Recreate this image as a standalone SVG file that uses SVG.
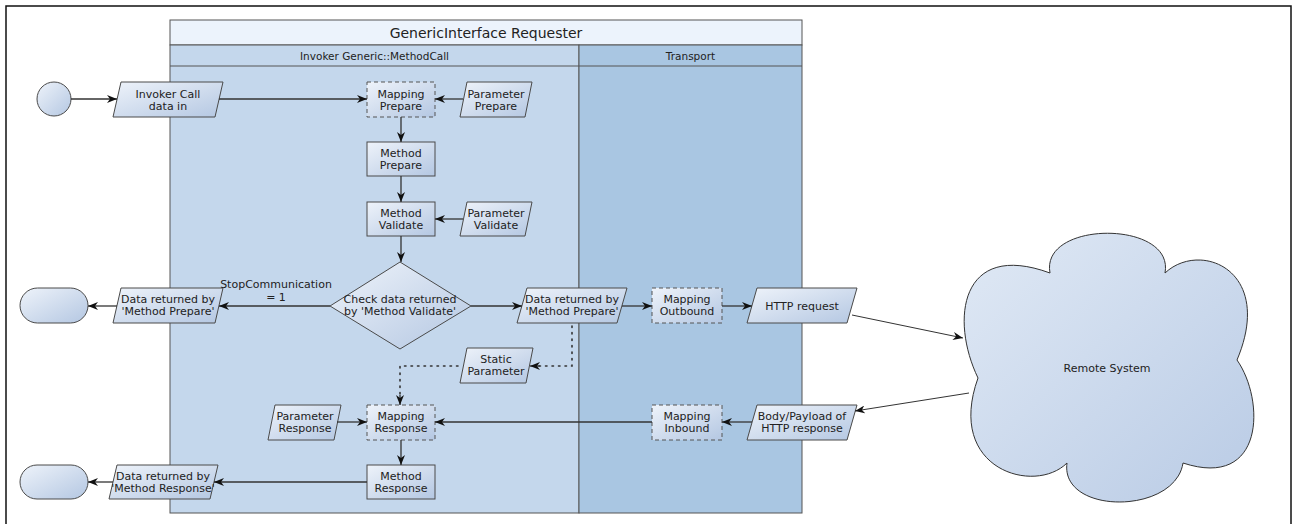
<svg xmlns="http://www.w3.org/2000/svg" width="1296" height="524" viewBox="0 0 1296 524">
<defs>
<linearGradient id="ng" x1="0" y1="0" x2="1" y2="1">
<stop offset="0" stop-color="#eef3fa"/>
<stop offset="1" stop-color="#b4c7e2"/>
</linearGradient>
<linearGradient id="cg" x1="0" y1="0" x2="1" y2="1">
<stop offset="0" stop-color="#e0e9f5"/>
<stop offset="1" stop-color="#b9cbe5"/>
</linearGradient>
<marker id="arr" viewBox="0 0 10 8" markerWidth="10" markerHeight="8" refX="10" refY="4" orient="auto" markerUnits="userSpaceOnUse">
<path d="M0,0 L10,4 L0,8 L3,4 z" fill="#111"/>
</marker>
<style>
text{font-family:"DejaVu Sans","Liberation Sans",sans-serif;fill:#222;text-anchor:middle}
.t{font-size:11px}
.hd{font-size:10.5px}
.ti{font-size:14px}
.n{fill:url(#ng);stroke:#4a4a4a;stroke-width:1}
.d{fill:url(#ng);stroke:#555;stroke-width:1;stroke-dasharray:4,3}
.c{fill:none;stroke:#333;stroke-width:1.3;marker-end:url(#arr)}
.dot{fill:none;stroke:#333;stroke-width:1.6;stroke-dasharray:1.5,5;stroke-linecap:round}
</style>
</defs>
<rect x="0" y="0" width="1296" height="524" fill="#fff"/>
<rect x="6" y="6" width="1285" height="530" fill="none" stroke="#111" stroke-width="1.5"/>

<g id="pool">
<rect x="170" y="20" width="632" height="25" fill="#ecf3fc" stroke="#555" stroke-width="1"/>
<text class="ti" x="486" y="38">GenericInterface Requester</text>
<rect x="170" y="45" width="409" height="468" fill="#c4d7ec" stroke="#555" stroke-width="1"/>
<rect x="579" y="45" width="223" height="468" fill="#a9c6e2" stroke="#555" stroke-width="1"/>
<line x1="170" y1="66" x2="802" y2="66" stroke="#555" stroke-width="1"/>
<text class="hd" x="374.5" y="60">Invoker Generic::MethodCall</text>
<text class="hd" x="690.5" y="60">Transport</text>
</g>

<g id="start"><circle cx="54" cy="99" r="17" class="n"/></g>
<g id="invoker-call"><path class="n" d="M121,82 L223,82 L215,117 L113,117 Z"/><text class="t" x="168" y="98">Invoker Call</text><text class="t" x="168" y="110">data in</text></g>
<g id="mapping-prepare"><rect class="d" x="367" y="82" width="68" height="35"/><text class="t" x="401" y="98">Mapping</text><text class="t" x="401" y="110">Prepare</text></g>
<g id="parameter-prepare"><path class="n" d="M467,82 L532,82 L525,117 L460,117 Z"/><text class="t" x="496" y="98">Parameter</text><text class="t" x="496" y="110">Prepare</text></g>
<g id="method-prepare"><rect class="n" x="367" y="142" width="68" height="34"/><text class="t" x="401" y="157">Method</text><text class="t" x="401" y="169">Prepare</text></g>
<g id="method-validate"><rect class="n" x="367" y="202" width="68" height="34"/><text class="t" x="401" y="217">Method</text><text class="t" x="401" y="229">Validate</text></g>
<g id="parameter-validate"><path class="n" d="M467,202 L532,202 L525,236 L460,236 Z"/><text class="t" x="496" y="217">Parameter</text><text class="t" x="496" y="229">Validate</text></g>
<g id="check"><path class="n" d="M400,262 L471,306 L400,349 L330,306 Z"/><text class="t" x="400" y="303">Check data returned</text><text class="t" x="400" y="315">by 'Method Validate'</text></g>
<g id="data-left"><path class="n" d="M121,288 L223,288 L215,323 L113,323 Z"/><text class="t" x="168" y="303">Data returned by</text><text class="t" x="168" y="315">'Method Prepare'</text></g>
<g id="end-1"><rect class="n" x="20" y="288" width="68" height="35" rx="17.5"/></g>
<g id="data-right"><path class="n" d="M527,288 L627,288 L617,323 L517,323 Z"/><text class="t" x="572" y="303">Data returned by</text><text class="t" x="572" y="315">'Method Prepare'</text></g>
<g id="mapping-outbound"><rect class="d" x="652" y="288" width="70" height="35"/><text class="t" x="687" y="303">Mapping</text><text class="t" x="687" y="315">Outbound</text></g>
<g id="http-request"><path class="n" d="M757,288 L857,288 L847,323 L747,323 Z"/><text class="t" x="802" y="310">HTTP request</text></g>
<g id="static-parameter"><path class="n" d="M467,348 L533,348 L526,383 L460,383 Z"/><text class="t" x="496" y="363">Static</text><text class="t" x="496" y="375">Parameter</text></g>
<g id="parameter-response"><path class="n" d="M275,405 L341,405 L334,440 L268,440 Z"/><text class="t" x="305" y="420">Parameter</text><text class="t" x="305" y="432">Response</text></g>
<g id="mapping-response"><rect class="d" x="367" y="405" width="68" height="35"/><text class="t" x="401" y="420">Mapping</text><text class="t" x="401" y="432">Response</text></g>
<g id="mapping-inbound"><rect class="d" x="652" y="405" width="70" height="35"/><text class="t" x="687" y="420">Mapping</text><text class="t" x="687" y="432">Inbound</text></g>
<g id="body-payload"><path class="n" d="M757,405 L857,405 L847,440 L747,440 Z"/><text class="t" x="802" y="420">Body/Payload of</text><text class="t" x="802" y="432">HTTP response</text></g>
<g id="method-response"><rect class="n" x="367" y="465" width="68" height="34"/><text class="t" x="401" y="480">Method</text><text class="t" x="401" y="492">Response</text></g>
<g id="data-response"><path class="n" d="M117,465 L218,465 L210,499 L109,499 Z"/><text class="t" x="163" y="480">Data returned by</text><text class="t" x="163" y="492">'Method Response'</text></g>
<g id="end-2"><rect class="n" x="20" y="465" width="68" height="34" rx="17"/></g>
<g id="remote-system">
<path fill="url(#cg)" stroke="#333" stroke-width="1" d="M1050,273 C1040,220 1175,220 1165,273 C1200,240 1275,270 1237,360 C1265,400 1265,490 1183,463 C1175,515 1060,515 1067,463 C1035,495 945,470 978,378 C950,320 960,240 1050,273 Z"/>
<text class="t" x="1107" y="372">Remote System</text>
</g>

<g id="connectors">
<path class="c" d="M71,99 L117,99"/>
<path class="c" d="M219,99 L367,99"/>
<path class="c" d="M463,99 L435,99"/>
<path class="c" d="M401,117 L401,142"/>
<path class="c" d="M401,176 L401,202"/>
<path class="c" d="M463,219 L435,219"/>
<path class="c" d="M401,236 L401,262"/>
<path class="c" d="M330,306 L219,306"/>
<text class="t" x="276" y="288">StopCommunication</text>
<text class="t" x="276" y="301">= 1</text>
<path class="c" d="M117,306 L88,306"/>
<path class="c" d="M471,306 L522,306"/>
<path class="c" d="M622,306 L652,306"/>
<path class="c" d="M722,306 L752,306"/>
<path class="dot" d="M572,326 L572,366 L538,366"/>
<path class="c" d="M540,366 L530,366"/>
<path class="dot" d="M458,366 L400,366 L400,397"/>
<path class="c" d="M400,395 L400,405"/>
<path class="c" d="M337,422 L367,422"/>
<path class="c" d="M652,422 L435,422"/>
<path class="c" d="M752,422 L722,422"/>
<path class="c" d="M401,440 L401,465"/>
<path class="c" d="M367,482 L214,482"/>
<path class="c" d="M113,482 L88,482"/>
<path class="c" d="M852,315 L963,338" style="stroke-width:1"/>
<path class="c" d="M969,393 L855,411" style="stroke-width:1"/>
</g>
</svg>
